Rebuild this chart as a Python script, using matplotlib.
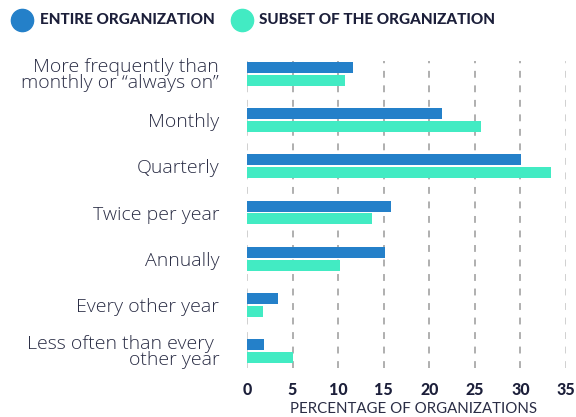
import matplotlib
matplotlib.use("Agg")
import matplotlib.pyplot as plt
from matplotlib.lines import Line2D
import numpy as np

categories = [
    "More frequently than\nmonthly or \u201calways on\u201d",
    "Monthly",
    "Quarterly",
    "Twice per year",
    "Annually",
    "Every other year",
    "Less often than every \nother year",
]
entire_org = [11.6, 21.4, 30.1, 15.8, 15.1, 3.4, 1.9]
subset_org = [10.8, 25.7, 33.4, 13.7, 10.2, 1.75, 5.1]
x_ticks = [0, 5, 10, 15, 20, 25, 30, 35]

BLUE = "#2480c9"
GREEN = "#42ebc3"
NAVY = "#1c1f3a"

plt.rcParams["font.family"] = ["Lato", "DejaVu Sans"]

fig = plt.figure(figsize=(5.76, 4.17), dpi=100)
ax = fig.add_axes([247 / 576, 1 - 374 / 417, 319 / 576, 323 / 417])

y = np.arange(len(categories))
h = 0.24
ax.barh(y - 0.14, entire_org, height=h, color=BLUE, zorder=3)
ax.barh(y + 0.14, subset_org, height=h, color=GREEN, zorder=3)

ax.set_xlim(0, 35)
ax.set_ylim(len(categories) - 0.5, -0.5)
ax.set_xticks(x_ticks)
ax.set_xticklabels([str(t) for t in x_ticks], fontsize=11.5, fontweight="black", color=NAVY)
ax.set_yticks(y)
ax.set_yticklabels(categories, fontsize=14, family=["Open Sans", "DejaVu Sans"],
                   fontweight="light", color="#2a2d45", linespacing=0.85)
ax.tick_params(axis="y", length=0, pad=20)
ax.tick_params(axis="x", length=0, pad=6)

for t in x_ticks:
    col = "#c4c4c4" if t in (0, 35) else "#9a9a9a"
    ax.axvline(t, color=col, linestyle=(0, (4.5, 5)), linewidth=1.1, zorder=1, ymin=0.02, ymax=0.97)

for s in ax.spines.values():
    s.set_visible(False)

# x axis title placed directly so it sits inside the canvas
fig.text(414 / 576, 1 - 409 / 417, "PERCENTAGE OF ORGANIZATIONS", fontsize=10.8,
         color="#2a2d45", ha="center", va="center")

# legend drawn by hand at top
ly = 1 - 20 / 417
fig.lines.append(Line2D([22 / 576], [ly], marker="o", markersize=16, color=BLUE,
                        transform=fig.transFigure))
fig.lines.append(Line2D([242 / 576], [ly], marker="o", markersize=16, color=GREEN,
                        transform=fig.transFigure))
fig.text(40 / 576, ly, "ENTIRE ORGANIZATION", fontsize=11, fontweight="black",
         color=NAVY, va="center", ha="left")
fig.text(259 / 576, ly, "SUBSET OF THE ORGANIZATION", fontsize=11, fontweight="black",
         color=NAVY, va="center", ha="left")

fig.savefig("out.png", dpi=100)
